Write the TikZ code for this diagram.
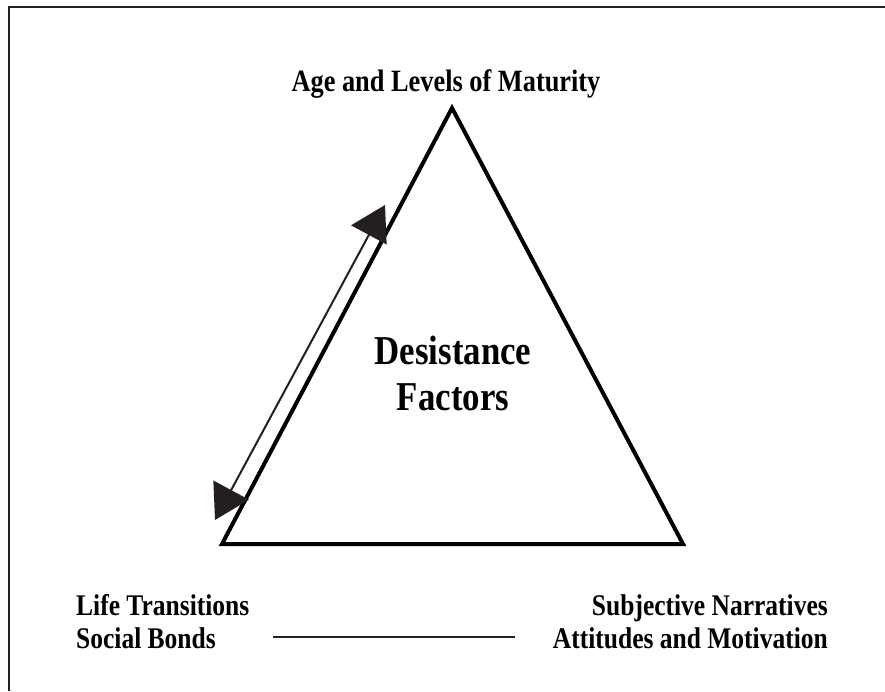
\documentclass[tikz,border=0pt]{standalone}
\usepackage{fontspec}
\setmainfont{Liberation Serif}[FakeStretch=0.85]
\usetikzlibrary{arrows.meta}
\definecolor{ink}{HTML}{231F20}
\tikzstyle{factor} = [font=\bfseries\fontsize{30}{33}\selectfont, inner sep=0pt]
\tikzstyle{core} = [font=\bfseries\fontsize{41}{46}\selectfont, inner sep=0pt, align=center]
\tikzstyle{side} = [line width=4pt, line join=miter]
\tikzstyle{link} = [line width=2pt, draw=ink,
    {Triangle[length=34pt,width=40pt]}-{Triangle[length=34pt,width=40pt]}]
\tikzstyle{bond} = [line width=2pt, draw=ink]

\begin{document}
\begin{tikzpicture}[x=1pt, y=-1pt]
\useasboundingbox (0,0) rectangle (885,691);
% frame
\draw[line width=2pt, draw=ink] (885,7) -- (9,7) -- (9,691);

% triangle
\coordinate (apex) at (452,108);
\coordinate (baseL) at (222,544);
\coordinate (baseR) at (683,544);
\draw[side] (apex) -- (baseL) -- (baseR) -- cycle;

\node[factor, font=\bfseries\fontsize{31}{33}\selectfont, anchor=base] (age) at (446,91) {Age and Levels of Maturity};
\node[core] (desist) at (453,373) {Desistance\\Factors};

% double arrow along the left side
\coordinate (lowtip) at (215,520);
\coordinate (uptip) at (385,205);
\draw[link] (lowtip) -- (uptip);

\node[factor, anchor=west, align=left] (life) at (76,622) {Life Transitions\\Social Bonds};
\node[factor, anchor=east, align=right] (subj) at (828,622) {Subjective Narratives\\Attitudes and Motivation};

\coordinate (bondL) at (273,637);
\coordinate (bondR) at (515,637);
\draw[bond] (bondL) -- (bondR);
\end{tikzpicture}
\end{document}
